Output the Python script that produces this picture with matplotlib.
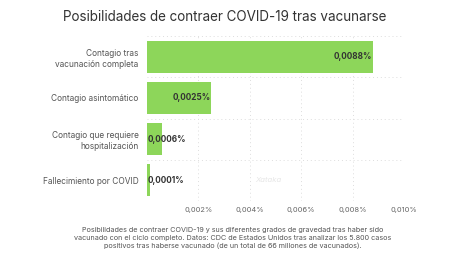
import matplotlib
matplotlib.use("Agg")
import matplotlib.pyplot as plt
from matplotlib.ticker import FixedLocator

categories = [
    "Contagio tras\nvacunación completa",
    "Contagio asintomático",
    "Contagio que requiere\nhospitalización",
    "Fallecimiento por COVID",
]
values = [0.0088, 0.0025, 0.0006, 0.0001]
value_labels = ["0,0088%", "0,0025%", "0,0006%", "0,0001%"]
xticks = [0.002, 0.004, 0.006, 0.008, 0.010]
xtick_labels = ["0,002%", "0,004%", "0,006%", "0,008%", "0,010%"]

title = "Posibilidades de contraer COVID-19 tras vacunarse"
caption = ("Posibilidades de contraer COVID-19 y sus diferentes grados de gravedad tras haber sido\n"
           "vacunado con el ciclo completo. Datos: CDC de Estados Unidos tras analizar los 5.800 casos\n"
           "positivos tras haberse vacunado (de un total de 66 millones de vacunados).")

plt.rcParams["font.family"] = ["Inter", "DejaVu Sans"]

fig = plt.figure(figsize=(4.5, 2.61), dpi=100)
ax = fig.add_axes([147 / 450, 1 - 201 / 261, 257 / 450, (201 - 36) / 261])

green = "#8dd65a"
y = list(range(len(categories)))
ax.barh(y, values, height=0.78, color=green, zorder=2)
ax.set_ylim(len(categories) - 0.5, -0.5)
ax.set_xlim(0, 0.010)

for i, (v, lab) in enumerate(zip(values, value_labels)):
    if v > 0.0015:
        ax.text(v - 0.00003, i, lab, ha="right", va="center", fontsize=5.9,
                fontweight="bold", color="#333333", zorder=3)
    else:
        ax.text(0.00003, i, lab, ha="left", va="center", fontsize=5.9,
                fontweight="bold", color="#333333", zorder=3)

ax.set_yticks(y)
ax.set_yticklabels(categories, fontsize=6.0, color="#555555", linespacing=1.3)
ax.set_xticks(xticks)
ax.set_xticklabels(xtick_labels, fontsize=5.4, color="#666666")
ax.tick_params(axis="both", which="both", length=0, pad=6)
ax.tick_params(axis="x", pad=4)

ax.yaxis.set_minor_locator(FixedLocator([i - 0.5 for i in range(len(categories) + 1)]))
ax.grid(axis="x", which="major", linestyle=(0, (1, 3)), color="#dddddd", linewidth=0.7, zorder=0)
ax.grid(axis="y", which="minor", linestyle=(0, (1, 3)), color="#dddddd", linewidth=0.7, zorder=0)
for s in ax.spines.values():
    s.set_visible(False)

ax.text(0.0047, 3, "Xataka", ha="center", va="center", fontsize=5.5,
        color="#e6e6e6", fontstyle="italic", zorder=1)

fig.text(0.5, 1 - 17 / 261, title, ha="center", va="center", fontsize=9.7, color="#333333")
fig.text(233 / 450, 1 - 238 / 261, caption, ha="center", va="center", fontsize=5.2,
         color="#555555", linespacing=1.4)

fig.savefig("out.png", dpi=100, facecolor="white")
